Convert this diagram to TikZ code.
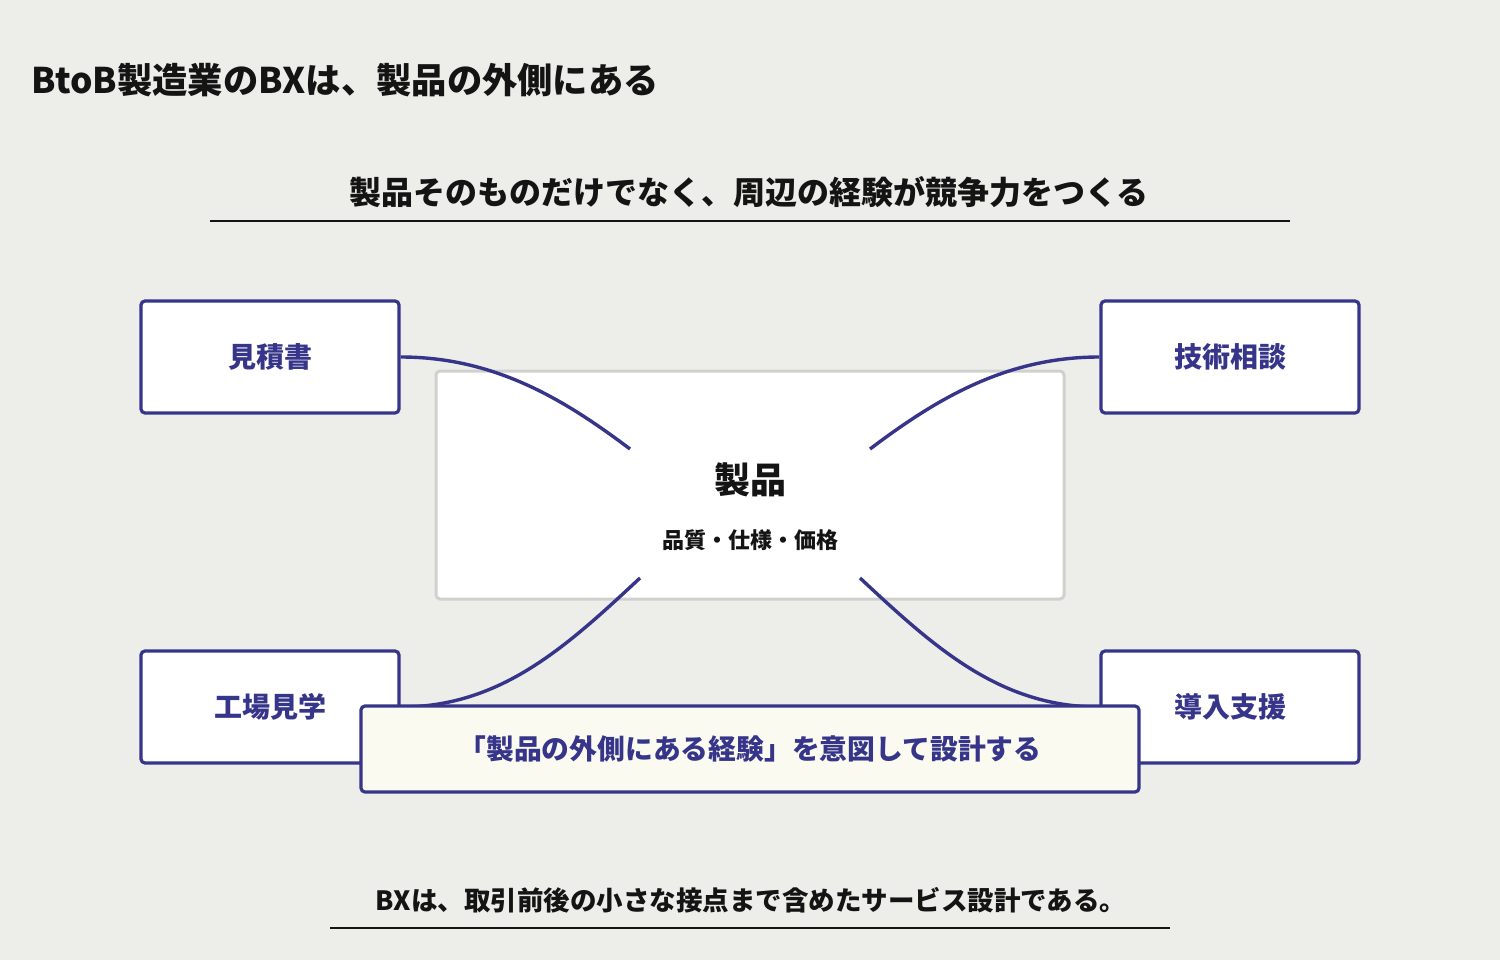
\documentclass[tikz,border=0pt]{standalone}
\usepackage{fontspec}
\setmainfont{Noto Sans CJK JP}[BoldFont={Noto Sans CJK JP Black}]
\definecolor{bg}{RGB}{237,237,233}
\definecolor{navy}{RGB}{54,53,138}
\definecolor{greyb}{RGB}{208,208,206}
\definecolor{cream}{RGB}{250,250,240}
\definecolor{ink}{RGB}{20,20,20}
\tikzset{
  fs/.style={font=\fontsize{#1}{#1}\selectfont\bfseries},
  sidebox/.style={draw=navy, line width=3.2pt, fill=white, rounded corners=4pt,
    minimum width=258pt, minimum height=112pt, text=navy, fs=28, inner sep=0pt},
  prodbox/.style={draw=greyb, line width=3pt, fill=white, rounded corners=4pt,
    minimum width=628pt, minimum height=228pt, inner sep=0pt},
  banner/.style={draw=navy, line width=3.2pt, fill=cream, rounded corners=4pt,
    minimum width=778pt, minimum height=86pt, text=navy, fs=27.8, inner sep=0pt},
  conn/.style={draw=navy, line width=3.4pt},
  rule/.style={draw=ink, line width=2.6pt},
}
\begin{document}
\begin{tikzpicture}[x=1pt,y=-1pt]
\fill[bg] (0,0) rectangle (1500,960);
\useasboundingbox (0,0) rectangle (1500,960);

\node[anchor=west, text=ink, fs=35.3, inner sep=0pt] (title) at (31,80) {BtoB製造業のBXは、製品の外側にある};
\node[text=ink, fs=32, inner sep=0pt] (sub) at (749,192) {製品そのものだけでなく、周辺の経験が競争力をつくる};
\draw[rule] (210,221) -- (1290,221);

\node[prodbox] (prod) at (750,485) {};
\node[text=ink, fs=36, inner sep=0pt] (prodt) at (750,480) {製品};
\node[text=ink, fs=22, inner sep=0pt] (prods) at (750,540) {品質・仕様・価格};

\node[sidebox] (mitsu) at (270,357) {見積書};
\node[sidebox] (gijutsu) at (1230,357) {技術相談};
\node[sidebox] (kojo) at (270,707) {工場見学};
\node[sidebox] (donyu) at (1230,707) {導入支援};

\coordinate (p1) at (630,449);
\coordinate (p2) at (870,449);
\coordinate (p3) at (640,578);
\coordinate (p4) at (860,578);

\draw[conn] (mitsu.east) .. controls (495,357) and (565,400) .. (p1);
\draw[conn] (gijutsu.west) .. controls (1005,357) and (935,400) .. (p2);
\draw[conn] (p3) .. controls (565,648) and (500,707) .. (kojo.east);
\draw[conn] (p4) .. controls (935,648) and (1000,707) .. (donyu.west);

\node[banner] (ban) at (750,749) {「製品の外側にある経験」を意図して設計する};

\node[text=ink, fs=26.5, inner sep=0pt] (foot) at (751,900) {BXは、取引前後の小さな接点まで含めたサービス設計である。};
\draw[rule] (330,928) -- (1170,928);
\end{tikzpicture}
\end{document}
